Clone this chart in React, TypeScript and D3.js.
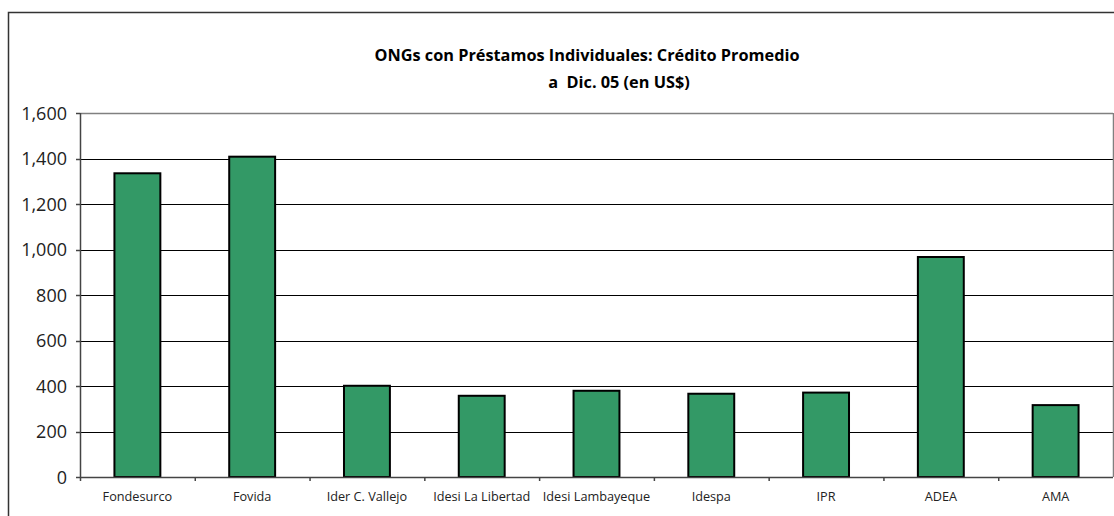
import React from "react";
import * as d3 from "d3";

const categories = [
  "Fondesurco",
  "Fovida",
  "Ider C. Vallejo",
  "Idesi La Libertad",
  "Idesi Lambayeque",
  "Idespa",
  "IPR",
  "ADEA",
  "AMA",
];
const values = [1335, 1408, 401, 357, 379, 366, 371, 967, 316];
const yTicks = [0, 200, 400, 600, 800, 1000, 1200, 1400, 1600];
const titleLine1 = "ONGs con Préstamos Individuales: Crédito Promedio";
const titleLine2 = "a  Dic. 05 (en US$)";

const W = 1114;
const H = 516;
const plot = { left: 80, right: 1113, top: 113, bottom: 477 };

export default function App() {
  const x = d3
    .scaleBand<string>()
    .domain(categories)
    .range([plot.left, plot.right])
    .paddingInner(0.6)
    .paddingOuter(0.3);
  const step = x.step();
  const y = d3.scaleLinear().domain([0, 1600]).range([plot.bottom, plot.top]);
  const fmt = d3.format(",");
  const font = "'Open Sans', 'Noto Sans', sans-serif";

  return (
    <svg
      width={W}
      height={H}
      style={{ position: "absolute", left: 0, top: 0, background: "#fff" }}
    >
      {/* outer frame */}
      <path
        d={`M8.5,${H + 5} L8.5,12.5 L${W + 5},12.5`}
        fill="none"
        stroke="#333"
        strokeWidth={1.5}
      />
      {/* title */}
      <text
        x={587}
        y={60.5}
        textAnchor="middle"
        fontFamily={font}
        fontWeight="bold"
        fontSize={16.3}
        fill="#000"
      >
        {titleLine1}
      </text>
      <text
        x={619}
        y={87.5}
        textAnchor="middle"
        fontFamily={font}
        fontWeight="bold"
        fontSize={16.3}
        fill="#000"
        style={{ whiteSpace: "pre" }}
      >
        {titleLine2}
      </text>
      {/* gridlines */}
      {yTicks.map((t) => (
        <line
          key={"g" + t}
          x1={plot.left}
          x2={plot.right}
          y1={Math.round(y(t)) + 0.5}
          y2={Math.round(y(t)) + 0.5}
          stroke={t === 1600 ? "#808080" : "#000"}
          strokeWidth={t === 1600 ? 1.5 : 1}
        />
      ))}
      {/* right border */}
      <line
        x1={plot.right + 0.5}
        x2={plot.right + 0.5}
        y1={plot.top}
        y2={plot.bottom}
        stroke="#808080"
        strokeWidth={1.5}
      />
      {/* bars */}
      {categories.map((c, i) => (
        <rect
          key={c}
          x={x(c)!}
          y={y(values[i])}
          width={x.bandwidth()}
          height={plot.bottom - y(values[i])}
          fill="#339966"
          stroke="#000"
          strokeWidth={2}
        />
      ))}
      {/* y axis */}
      <line
        x1={plot.left + 0.5}
        x2={plot.left + 0.5}
        y1={plot.top}
        y2={plot.bottom}
        stroke="#444"
        strokeWidth={1.5}
      />
      {yTicks.map((t) => (
        <g key={"t" + t}>
          <line
            x1={plot.left - 4}
            x2={plot.left}
            y1={Math.round(y(t)) + 0.5}
            y2={Math.round(y(t)) + 0.5}
            stroke="#444"
            strokeWidth={1.5}
          />
          <text
            x={67}
            y={y(t) + 6.5}
            textAnchor="end"
            fontFamily={font}
            fontSize={18}
            fill="#222"
          >
            {fmt(t)}
          </text>
        </g>
      ))}
      {/* x axis */}
      <line
        x1={plot.left}
        x2={plot.right}
        y1={plot.bottom + 0.5}
        y2={plot.bottom + 0.5}
        stroke="#444"
        strokeWidth={1.5}
      />
      {categories.map((c, i) => (
        <line
          key={"xt" + c}
          x1={plot.left + i * step + 0.5}
          x2={plot.left + i * step + 0.5}
          y1={plot.bottom}
          y2={plot.bottom + 4}
          stroke="#444"
          strokeWidth={1.5}
        />
      ))}
      {categories.map((c) => (
        <text
          key={"xl" + c}
          x={x(c)! + x.bandwidth() / 2}
          y={500.5}
          textAnchor="middle"
          fontFamily={font}
          fontSize={12.7}
          fill="#222"
        >
          {c}
        </text>
      ))}
    </svg>
  );
}
